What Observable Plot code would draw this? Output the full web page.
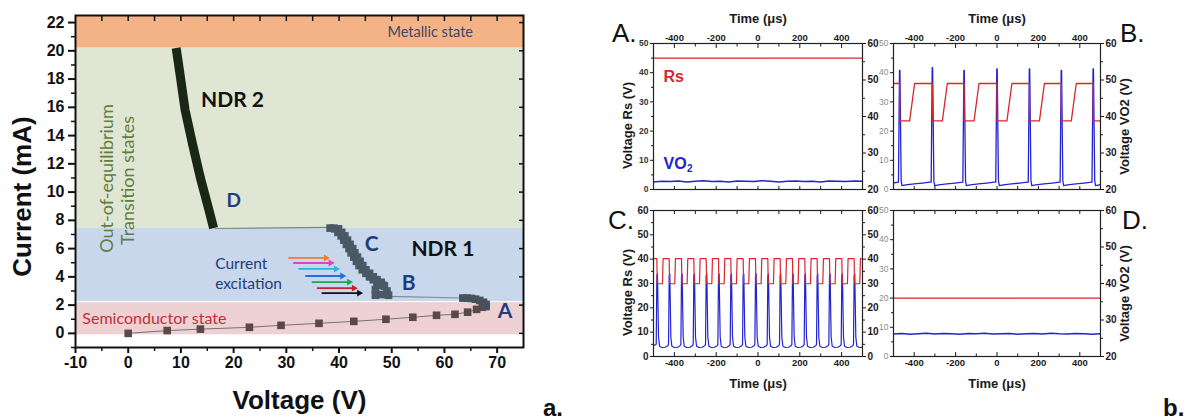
<!DOCTYPE html>
<html>
<head>
<meta charset="utf-8">
<script src="https://cdn.jsdelivr.net/npm/d3@7"></script>
<script src="https://cdn.jsdelivr.net/npm/@observablehq/plot@0.6"></script>
<style>
html,body{margin:0;padding:0;background:#fff;}
body{position:relative;width:1187px;height:419px;overflow:hidden;font-family:"Liberation Sans",Arial,sans-serif;}
.box{position:absolute;overflow:visible;}
.box svg{position:absolute;left:0;top:0;overflow:visible;max-width:none;}
.lbl{position:absolute;line-height:1;white-space:nowrap;color:#111;}
</style>
</head>
<body>
<div id="left" class="box" style="left:0;top:0;width:560px;height:419px"></div>
<div id="pA" class="box" style="left:600px;top:0;width:290px;height:200px"></div>
<div id="pB" class="box" style="left:880px;top:0;width:307px;height:200px"></div>
<div id="pC" class="box" style="left:600px;top:200px;width:290px;height:219px"></div>
<div id="pD" class="box" style="left:880px;top:200px;width:307px;height:219px"></div>
<div class="lbl" style="left:543px;top:396px;font-size:24px;font-weight:bold">a.</div>
<div class="lbl" style="left:1163px;top:396px;font-size:24px;font-weight:bold">b.</div>
<div class="lbl" style="left:612px;top:20px;font-size:26px">A.</div>
<div class="lbl" style="left:1120px;top:20px;font-size:26px">B.</div>
<div class="lbl" style="left:608px;top:207px;font-size:26px">C.</div>
<div class="lbl" style="left:1122px;top:207px;font-size:26px">D.</div>
<script>
const FONT = '"Liberation Sans", Arial, sans-serif';
const HUM = 'Lato, "Open Sans", sans-serif';

// ================= Panel a : current–voltage characteristic =================
const ivXDomain = [-10, 75];
const ivYDomain = [-1, 22.5];
const ivXTicks = [-10, 0, 10, 20, 30, 40, 50, 60, 70];
const ivXMinor = [-5, 5, 15, 25, 35, 45, 55, 65];
const ivXTop = [-5, 0, 5, 10, 15, 20, 25, 30, 35, 40, 45, 50, 55, 60, 65, 70];
const ivYTicks = [0, 2, 4, 6, 8, 10, 12, 14, 16, 18, 20, 22];
const ivYMinor = [-1, 1, 3, 5, 7, 9, 11, 13, 15, 17, 19, 21];

const bandLo = [-0.1, 2.25, 7.42, 20.2];
const bandHi = [2.18, 7.42, 20.2, 22.5];
const bandColor = ["#eed2d3", "#c8d7ec", "#dfe6d3", "#f3b386"];

// semiconductor branch (squares)
const semiV = [0, 7.4, 13.7, 23.0, 29.0, 36.2, 42.8, 48.9, 54.0, 58.5, 62.0, 64.4, 66.1, 67.2];
const semiI = [0.0, 0.2, 0.3, 0.43, 0.57, 0.71, 0.85, 1.0, 1.14, 1.28, 1.35, 1.5, 1.7, 1.85];
// point A cluster
const ptAV = [63.5, 64.3, 65.1, 65.9, 66.7, 67.4, 67.9, 67.9];
const ptAI = [2.5, 2.5, 2.47, 2.42, 2.33, 2.2, 2.05, 1.9];
// point B cluster
const ptBV = [46.9, 46.9, 47.4, 48.0, 48.6, 49.1, 49.4, 48.1];
const ptBI = [2.7, 3.1, 3.45, 3.6, 3.35, 3.0, 2.7, 2.75];
// NDR1 branch B -> C
const ndr1V = [38.3, 39.2, 39.8, 40.4, 40.9, 41.4, 41.9, 42.3, 42.8, 43.3, 43.8, 44.4, 45.1, 45.8, 46.5, 47.2, 47.7,
               39.0, 39.9, 40.5, 41.1, 41.6, 42.1, 42.6, 43.0, 43.5, 44.0, 44.5, 45.1, 45.8, 46.5, 47.2, 47.9, 48.4];
const ndr1I = [7.45, 7.4, 7.15, 6.9, 6.6, 6.3, 6.0, 5.7, 5.4, 5.1, 4.8, 4.5, 4.25, 4.0, 3.8, 3.6, 3.4,
               7.45, 7.4, 7.15, 6.9, 6.6, 6.3, 6.0, 5.7, 5.4, 5.1, 4.8, 4.5, 4.25, 4.0, 3.8, 3.6, 3.4];
// NDR2 branch D -> metallic
const ndr2V = [16.2, 15.2, 13.7, 12.2, 10.8, 9.9, 9.1];
const ndr2I = [7.45, 8.9, 11.0, 13.4, 15.8, 18.15, 20.2];
// thin jumps
const jumpBAV = [49.5, 63.5];
const jumpBAI = [2.62, 2.5];
const jumpCDV = [38.3, 16.5];
const jumpCDI = [7.5, 7.42];
// current-excitation arrows
const arrowV1 = [30.4, 31.3, 32.3, 33.6, 34.8, 35.8, 36.7];
const arrowV2 = [37.7, 38.6, 39.6, 40.8, 42.1, 43.0, 44.0];
const arrowI = [5.34, 4.98, 4.56, 4.06, 3.63, 3.2, 2.85];
const arrowColor = ["#f07d2a", "#e040c8", "#2ab3e6", "#1f6fe0", "#1fa655", "#c8202a", "#111111"];

const pairs = (xs, ys) => xs.map((v, k) => ({v, i: ys[k]}));
const bands = bandLo.map((lo, k) => ({lo, hi: bandHi[k], color: bandColor[k]}));
const arrows = arrowV1.map((v1, k) => ({v1, v2: arrowV2[k], i: arrowI[k], color: arrowColor[k]}));
const str = d => String(d);

const ivPlot = Plot.plot({
  width: 560, height: 419,
  marginLeft: 75, marginRight: 37, marginTop: 15, marginBottom: 72,
  x: {domain: ivXDomain}, y: {domain: ivYDomain},
  style: {background: "transparent", overflow: "visible", fontFamily: FONT, color: "#111"},
  marks: [
    Plot.rect(bands, {x1: () => ivXDomain[0], x2: () => ivXDomain[1], y1: "lo", y2: "hi", fill: "color"}),
    Plot.line(pairs(semiV, semiI), {x: "v", y: "i", stroke: "#7a7070", strokeWidth: 1}),
    Plot.line(pairs(jumpBAV, jumpBAI), {x: "v", y: "i", stroke: "#7f8c99", strokeWidth: 1.1}),
    Plot.line(pairs(jumpCDV, jumpCDI), {x: "v", y: "i", stroke: "#7c8a79", strokeWidth: 1.1}),
    Plot.dot(pairs(semiV, semiI), {x: "v", y: "i", symbol: "square", r: 4.3, fill: "#5b4848"}),
    Plot.dot(pairs(ptAV, ptAI), {x: "v", y: "i", symbol: "square", r: 4.3, fill: "#46515e"}),
    Plot.dot(pairs(ptBV, ptBI), {x: "v", y: "i", symbol: "square", r: 4.3, fill: "#4b5866"}),
    Plot.dot(pairs(ndr1V, ndr1I), {x: "v", y: "i", symbol: "square", r: 4.3, fill: "#4b5866"}),
    Plot.line(pairs(ndr2V, ndr2I), {x: "v", y: "i", stroke: "#1b2716", strokeWidth: 9, strokeLinecap: "butt", strokeLinejoin: "round"}),
    Plot.link(arrows, {x1: "v1", x2: "v2", y1: "i", y2: "i", stroke: "color", strokeWidth: 1.8}),
    Plot.dot(arrows, {x: "v2", y: "i", symbol: "triangle2", rotate: 90, r: 3.3, fill: "color", dx: -1}),
    // region / point labels
    Plot.text(["Metallic state"], {x: 57.3, y: 21.28, text: str, fontFamily: HUM, fontSize: 14.5, fill: "#3c4868"}),
    Plot.text(["Semiconductor state"], {x: -8.7, y: 1.0, text: str, textAnchor: "start", fontFamily: HUM, fontSize: 16, fill: "#c0303a"}),
    Plot.text(["Current"], {x: 16.5, y: 4.91, text: str, textAnchor: "start", fontFamily: HUM, fontSize: 15.5, fill: "#1f3d7a"}),
    Plot.text(["excitation"], {x: 16.5, y: 3.49, text: str, textAnchor: "start", fontFamily: HUM, fontSize: 15.5, fill: "#1f3d7a"}),
    Plot.text(["Out-of-equilibrium"], {x: -3.93, y: 10.96, text: str, rotate: -90, fontFamily: HUM, fontSize: 18, fill: "#627d3f"}),
    Plot.text(["Transition states"], {x: 0.05, y: 10.82, text: str, rotate: -90, fontFamily: HUM, fontSize: 18, fill: "#627d3f"}),
    Plot.text(["NDR 2"], {x: 19.8, y: 16.5, text: str, fontFamily: HUM, fontWeight: "bold", fontSize: 21, fill: "#111"}),
    Plot.text(["NDR 1"], {x: 59.7, y: 5.96, text: str, fontFamily: HUM, fontWeight: "bold", fontSize: 21, fill: "#111"}),
    Plot.text(["D"], {x: 20.0, y: 9.4, text: str, fontFamily: HUM, fontWeight: "bold", fontSize: 19, fill: "#1f3d7a"}),
    Plot.text(["C"], {x: 46.2, y: 6.31, text: str, fontFamily: HUM, fontWeight: "bold", fontSize: 21, fill: "#1f3d7a"}),
    Plot.text(["B"], {x: 53.2, y: 3.58, text: str, fontFamily: HUM, fontWeight: "bold", fontSize: 21, fill: "#1f3d7a"}),
    Plot.text(["A"], {x: 71.5, y: 1.57, text: str, fontFamily: HUM, fontWeight: "bold", fontSize: 21, fill: "#1f3d7a"}),
    // axes
    Plot.axisY(ivYTicks, {anchor: "left", tickSize: 7, tickPadding: 4, strokeWidth: 2, fontSize: 16, fontWeight: "bold", tickFormat: str, label: null}),
    Plot.axisY(ivYMinor, {anchor: "left", tickSize: 4, strokeWidth: 1.5, tickFormat: () => "", label: null}),
    Plot.axisY(ivYTicks, {anchor: "right", tickSize: 5, inset: 5, strokeWidth: 1.5, tickFormat: () => "", label: null}),
    Plot.axisX(ivXTicks, {anchor: "bottom", tickSize: 6, tickPadding: 3, strokeWidth: 2, fontSize: 16, fontWeight: "bold", tickFormat: str, label: null}),
    Plot.axisX(ivXMinor, {anchor: "bottom", tickSize: 4, strokeWidth: 1.5, tickFormat: () => "", label: null}),
    Plot.axisX(ivXTop, {anchor: "top", tickSize: 5, inset: 5, strokeWidth: 1.5, tickFormat: () => "", label: null}),
    Plot.text(["Current (mA)"], {frameAnchor: "left", dx: -53, dy: 15, rotate: -90, textAnchor: "middle", lineAnchor: "middle", text: str, fontSize: 26, fontWeight: "bold"}),
    Plot.text(["Voltage (V)"], {frameAnchor: "bottom", dy: 53, textAnchor: "middle", lineAnchor: "middle", text: str, fontSize: 26, fontWeight: "bold"}),
    Plot.frame({stroke: "#111", strokeWidth: 2})
  ]
});
document.getElementById("left").append(ivPlot);

// ================= Panel b : time traces =================
const timeDomain = [-500, 500];
const timeTicks = [-400, -200, 0, 200, 400];
const timeMinor = [-300, -100, 100, 300];
const timeAll = [-400, -300, -200, -100, 0, 100, 200, 300, 400];

const noiseT = [-500, -460, -420, -380, -340, -300, -260, -220, -180, -140, -100, -60, -20,
                20, 60, 100, 140, 180, 220, 260, 300, 340, 380, 420, 460, 500];

// A: constant Rs, low VO2
const aRsT = [-500, 500];
const aRsV = [45, 45];
const aVoV = [2.6, 2.8, 2.7, 2.9, 2.6, 2.8, 3.0, 2.7, 2.8, 2.6, 2.9, 2.8, 2.7,
              3.0, 2.8, 2.6, 2.8, 2.9, 2.7, 2.8, 2.6, 2.9, 2.8, 2.7, 2.9, 2.8];

// B: slow self-oscillation
const bRsT = [-500, -470, -470, -422, -398, -312, -312, -264, -240, -159, -159, -111, -87, 0, 0, 48, 72,
              157, 157, 205, 229, 311, 311, 359, 383, 465, 465, 500];
const bRsV = [36.3, 36.3, 23.5, 23.5, 36.3, 36.3, 23.5, 23.5, 36.3, 36.3, 23.5, 23.5, 36.3, 36.3, 23.5, 23.5, 36.3,
              36.3, 23.5, 23.5, 36.3, 36.3, 23.5, 23.5, 36.3, 36.3, 23.5, 23.5];
const bPulseT = [-470, -312, -159, 0, 157, 311, 465];
const bPulsePeak = [40.8, 41.7, 40.8, 41.3, 41.3, 40.8, 41.3];
const bSpikeDt = [-6, -1, 1, 7, 11, 30, 70, 110, 145];
const bSpikeV = [2.5, null, null, 3.0, 1.3, 1.6, 1.9, 2.2, 2.5];
const bVoStartT = [-500, -488];
const bVoStartV = [2.3, 2.4];

// C: fast self-oscillation
const cPulseT = [-484, -425, -366, -307, -248, -189, -130, -71, -12, 47, 106, 165, 224, 283, 342, 401, 460];
const cRsDt = [0, 2, 27, 30];
const cRsV = [40.2, 29.9, 29.9, 40.2];
const cVoDt = [-3, 0, 3, 8, 13, 25, 40, 52];
const cVoV = [5, 33, 34, 8, 4.2, 3.7, 3.8, 4.4];

// D: constant, VO2 in metallic-like state
const dRsT = [-500, 500];
const dRsV = [20, 20];
const dVoV = [7.7, 7.9, 7.6, 7.8, 8.0, 7.7, 7.9, 7.8, 7.6, 7.9, 7.8, 8.0, 7.7,
              7.8, 7.9, 7.6, 7.8, 7.9, 7.7, 8.0, 7.8, 7.7, 7.9, 7.8, 7.6, 7.8];

const RED = "#d8262b", BLUE = "#2323d0";
const series = (ts, vs) => ts.map((t, k) => ({t, v: vs[k]}));

const bVo = series(bVoStartT, bVoStartV);
bPulseT.forEach((T, k) => bSpikeDt.forEach((dt, j) =>
  bVo.push({t: T + dt, v: bSpikeV[j] == null ? bPulsePeak[k] : bSpikeV[j]})));
const cRs = [{t: -500, v: cRsV[0]}];
cPulseT.forEach(T => cRsDt.forEach((dt, j) => cRs.push({t: T + dt, v: cRsV[j]})));
cRs.push({t: 500, v: cRsV[0]});
const cVo = [{t: -500, v: cVoV[cVoV.length - 1]}];
cPulseT.forEach(T => cVoDt.forEach((dt, j) => cVo.push({t: T + dt, v: cVoV[j]})));
cVo.push({t: 500, v: cVoV[cVoV.length - 1]});

function panel(o) {
  const host = document.getElementById(o.id);
  const base = {
    width: o.w, height: o.h, marginLeft: o.mL, marginRight: o.mR, marginTop: o.mT, marginBottom: o.mB,
    style: {background: "transparent", overflow: "visible", fontFamily: FONT, color: "#1a1a1a"}
  };
  const other = o.timeSide === "top" ? "bottom" : "top";
  const main = Plot.plot({
    ...base, x: {domain: timeDomain}, y: {domain: o.leftDomain},
    marks: [
      ...o.series.map(s => Plot.line(s.data, {x: "t", y: "v", stroke: s.color, strokeWidth: s.width, clip: true})),
      Plot.frame({stroke: "#222", strokeWidth: 1.2}),
      Plot.axisX(timeTicks, {anchor: o.timeSide, tickSize: 4, inset: 4, tickPadding: 3, fontSize: 9.5, fontWeight: "bold", tickFormat: str, label: null}),
      Plot.axisX(timeMinor, {anchor: o.timeSide, tickSize: 2.5, inset: 2.5, tickFormat: () => "", label: null}),
      Plot.axisX(timeAll, {anchor: other, tickSize: 3, inset: 3, tickFormat: () => "", label: null}),
      Plot.axisY(o.leftTicks, {anchor: "left", tickSize: 3, tickPadding: 2, fontSize: o.leftFs, fontWeight: o.leftFw, fill: o.leftFill, tickFormat: str, label: null}),
      Plot.axisY(o.leftMinor, {anchor: "left", tickSize: 2, tickFormat: () => "", label: null}),
      Plot.text(["Time (μs)"], {frameAnchor: o.timeSide, dy: o.timeSide === "top" ? -25 : 27, textAnchor: "middle", lineAnchor: "middle", text: str, fontSize: 13, fontWeight: "bold"}),
      o.leftLabel ? Plot.text([o.leftLabel], {frameAnchor: "left", dx: -26, dy: 9, rotate: -90, textAnchor: "middle", lineAnchor: "middle", text: str, fontSize: 13, fontWeight: "bold"}) : null,
      ...(o.extra || [])
    ]
  });
  const right = Plot.plot({
    ...base, x: {domain: timeDomain, axis: null}, y: {domain: o.rightDomain, axis: null},
    marks: [
      Plot.axisY(o.rightTicks, {anchor: "right", tickSize: 3, tickPadding: 2, fontSize: 10, fontWeight: "bold", tickFormat: str, label: null}),
      Plot.axisY(o.rightMinor, {anchor: "right", tickSize: 2, tickFormat: () => "", label: null}),
      o.rightLabel ? Plot.text([o.rightLabel], {frameAnchor: "right", dx: 24, dy: 10, rotate: -90, textAnchor: "middle", lineAnchor: "middle", text: str, fontSize: 13, fontWeight: "bold"}) : null
    ]
  });
  host.append(main, right);
}

const tick50 = [0, 10, 20, 30, 40, 50], minor50 = [5, 15, 25, 35, 45];
const tick60 = [0, 10, 20, 30, 40, 50, 60], minor60 = [5, 15, 25, 35, 45, 55];
const tickR = [20, 30, 40, 50, 60], minorR = [25, 35, 45, 55];

panel({
  id: "pA", w: 290, h: 200, mL: 53, mR: 28, mT: 43, mB: 11, timeSide: "top",
  leftDomain: [0, 50], leftTicks: tick50, leftMinor: minor50, leftFs: 8.5, leftFw: "bold", leftFill: "#333",
  rightDomain: [20, 60], rightTicks: tickR, rightMinor: minorR,
  leftLabel: "Voltage Rs (V)",
  series: [
    {data: series(aRsT, aRsV), color: RED, width: 1.3},
    {data: series(noiseT, aVoV), color: BLUE, width: 1.5}
  ],
  extra: [
    Plot.text(["Rs"], {x: -452, y: 38.4, text: str, textAnchor: "start", fontSize: 16, fontWeight: "bold", fill: RED}),
    Plot.text(["VO"], {x: -452, y: 8.9, text: str, textAnchor: "start", fontSize: 16, fontWeight: "bold", fill: BLUE}),
    Plot.text(["2"], {x: -452, y: 8.9, dx: 23.5, dy: 5, text: str, textAnchor: "start", fontSize: 10, fontWeight: "bold", fill: BLUE})
  ]
});
panel({
  id: "pB", w: 307, h: 200, mL: 13, mR: 87, mT: 43, mB: 11, timeSide: "top",
  leftDomain: [0, 50], leftTicks: tick50, leftMinor: minor50, leftFs: 8.5, leftFw: "normal", leftFill: "#8c8c8c",
  rightDomain: [20, 60], rightTicks: tickR, rightMinor: minorR,
  rightLabel: "Voltage VO2 (V)",
  series: [
    {data: bVo, color: BLUE, width: 1.3},
    {data: series(bRsT, bRsV), color: RED, width: 1.3}
  ]
});
panel({
  id: "pC", w: 290, h: 219, mL: 53, mR: 28, mT: 10, mB: 63, timeSide: "bottom",
  leftDomain: [0, 60], leftTicks: tick60, leftMinor: minor60, leftFs: 10, leftFw: "bold", leftFill: "#222",
  rightDomain: [0, 60], rightTicks: tick60, rightMinor: minor60,
  leftLabel: "Voltage Rs (V)",
  series: [
    {data: cVo, color: BLUE, width: 1.2},
    {data: cRs, color: RED, width: 1.2}
  ]
});
panel({
  id: "pD", w: 307, h: 219, mL: 13, mR: 87, mT: 10, mB: 63, timeSide: "bottom",
  leftDomain: [0, 50], leftTicks: tick50, leftMinor: minor50, leftFs: 8.5, leftFw: "normal", leftFill: "#8c8c8c",
  rightDomain: [20, 60], rightTicks: tickR, rightMinor: minorR,
  rightLabel: "Voltage VO2 (V)",
  series: [
    {data: series(dRsT, dRsV), color: RED, width: 1.3},
    {data: series(noiseT, dVoV), color: BLUE, width: 1.5}
  ]
});
</script>
</body>
</html>
